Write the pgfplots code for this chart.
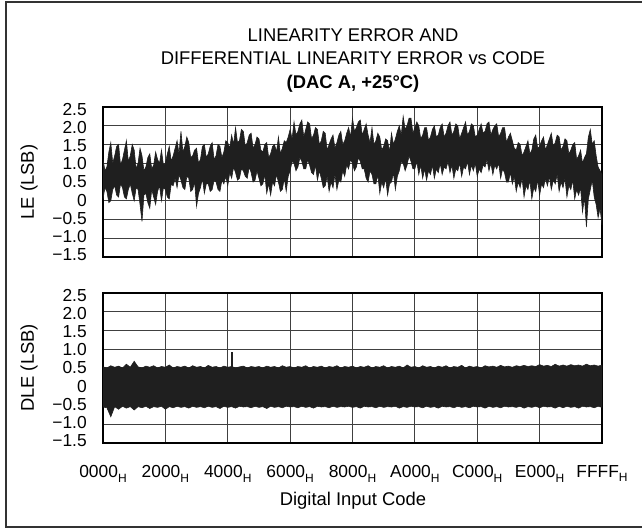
\documentclass[border=0pt]{standalone}
\usepackage{fontspec}
\setmainfont{Liberation Sans}
\usepackage{pgfplots}
\pgfplotsset{compat=1.18}
\usepackage{pgfplotstable}

\newcommand{\hx}[1]{#1\raisebox{-2.4pt}{\fontsize{6}{6}\selectfont H}}

% LE band as one closed outline, a point every 256 codes:
% upper edge from 0000H to FFFFH (257 rows), then lower edge back to 0000H (257 rows)
\pgfplotstableread[row sep=\\]{
y\\
1.10\\ 0.80\\ 0.90\\ 1.30\\ 1.55\\ 1.00\\ 1.20\\ 1.45\\ 1.50\\ 0.95\\
1.10\\ 1.35\\ 1.60\\ 1.05\\ 1.20\\ 1.50\\ 1.35\\ 0.85\\ 1.00\\ 1.40\\
1.20\\ 0.80\\ 0.90\\ 1.15\\ 1.25\\ 0.85\\ 0.95\\ 1.30\\ 1.10\\ 1.00\\
1.35\\ 0.95\\ 1.00\\ 1.25\\ 1.45\\ 1.05\\ 1.20\\ 1.40\\ 1.60\\ 1.25\\
1.85\\ 1.30\\ 1.45\\ 1.70\\ 1.55\\ 1.15\\ 1.20\\ 1.35\\ 1.40\\ 1.00\\
1.10\\ 1.45\\ 1.50\\ 1.15\\ 1.25\\ 1.45\\ 1.55\\ 1.10\\ 1.20\\ 1.50\\
1.45\\ 1.15\\ 1.30\\ 1.60\\ 1.55\\ 1.40\\ 1.75\\ 1.50\\ 1.95\\ 1.55\\
1.60\\ 1.90\\ 1.85\\ 1.45\\ 1.55\\ 1.75\\ 1.80\\ 1.40\\ 1.50\\ 1.70\\
1.65\\ 1.35\\ 1.30\\ 1.50\\ 1.55\\ 1.15\\ 1.25\\ 1.45\\ 1.50\\ 1.30\\
1.70\\ 1.25\\ 1.40\\ 1.60\\ 1.55\\ 1.70\\ 1.90\\ 1.65\\ 2.10\\ 1.75\\
1.85\\ 2.05\\ 2.15\\ 1.70\\ 1.90\\ 2.10\\ 2.05\\ 1.65\\ 1.75\\ 1.95\\
1.90\\ 1.50\\ 1.60\\ 1.85\\ 1.80\\ 1.35\\ 1.50\\ 1.65\\ 1.75\\ 1.40\\
1.55\\ 1.75\\ 1.85\\ 1.50\\ 1.60\\ 1.80\\ 1.95\\ 1.70\\ 2.20\\ 1.85\\
1.95\\ 2.10\\ 2.15\\ 1.75\\ 1.90\\ 2.05\\ 1.75\\ 1.55\\ 1.95\\ 1.50\\
1.60\\ 1.80\\ 1.70\\ 1.35\\ 1.45\\ 1.65\\ 1.60\\ 1.30\\ 1.80\\ 1.50\\
1.65\\ 1.85\\ 2.00\\ 1.75\\ 2.25\\ 1.90\\ 2.00\\ 2.20\\ 2.20\\ 1.80\\
1.95\\ 2.10\\ 2.00\\ 1.65\\ 1.75\\ 1.95\\ 1.95\\ 1.60\\ 1.70\\ 1.90\\
2.00\\ 1.70\\ 1.75\\ 1.95\\ 2.05\\ 1.70\\ 1.80\\ 2.00\\ 2.10\\ 1.75\\
1.85\\ 2.05\\ 2.00\\ 1.65\\ 1.80\\ 1.95\\ 2.10\\ 1.75\\ 1.85\\ 2.05\\
2.00\\ 1.70\\ 1.75\\ 1.90\\ 2.05\\ 1.80\\ 1.85\\ 2.05\\ 2.10\\ 1.75\\
1.90\\ 2.00\\ 2.05\\ 1.70\\ 1.80\\ 1.95\\ 1.95\\ 1.55\\ 1.70\\ 1.80\\
1.60\\ 1.40\\ 1.35\\ 1.55\\ 1.50\\ 1.20\\ 1.30\\ 1.45\\ 1.60\\ 1.25\\
1.35\\ 1.65\\ 1.75\\ 1.40\\ 1.45\\ 1.60\\ 1.70\\ 1.35\\ 1.50\\ 1.65\\
1.80\\ 1.45\\ 1.55\\ 1.75\\ 1.70\\ 1.35\\ 1.45\\ 1.65\\ 1.60\\ 1.25\\
1.35\\ 1.50\\ 1.55\\ 1.10\\ 1.20\\ 1.35\\ 1.00\\ 1.15\\ 1.25\\ 1.70\\
1.90\\ 1.50\\ 1.60\\ 1.20\\ 0.90\\ 0.80\\ 0.70\\
-0.65\\ -0.20\\ -0.45\\ -0.10\\ 0.10\\ 0.55\\ 0.30\\ 0.05\\ -0.70\\ 0.10\\
-0.30\\ 0.35\\ 0.15\\ 0.30\\ 0.05\\ 0.55\\ 0.30\\ 0.40\\ 0.10\\ 0.60\\
0.35\\ 0.50\\ 0.25\\ 0.70\\ 0.45\\ 0.55\\ 0.30\\ 0.65\\ 0.40\\ 0.60\\
0.35\\ 0.45\\ 0.15\\ 0.55\\ 0.25\\ 0.35\\ 0.05\\ 0.55\\ 0.30\\ 0.40\\
0.10\\ 0.60\\ 0.35\\ 0.50\\ 0.25\\ 0.65\\ 0.45\\ 0.75\\ 0.50\\ 0.50\\
0.75\\ 0.85\\ 0.60\\ 1.00\\ 0.85\\ 0.95\\ 0.70\\ 1.00\\ 0.80\\ 1.10\\
0.90\\ 0.95\\ 0.75\\ 0.85\\ 0.65\\ 1.00\\ 0.80\\ 0.95\\ 0.70\\ 1.05\\
0.85\\ 0.90\\ 0.65\\ 1.00\\ 0.80\\ 0.85\\ 0.60\\ 0.95\\ 0.75\\ 1.05\\
0.85\\ 0.90\\ 0.70\\ 1.00\\ 0.75\\ 0.85\\ 0.60\\ 0.95\\ 0.70\\ 0.80\\
0.55\\ 0.85\\ 0.60\\ 0.95\\ 0.70\\ 1.05\\ 0.85\\ 0.85\\ 1.05\\ 1.20\\
0.95\\ 0.80\\ 1.00\\ 1.05\\ 0.80\\ 0.65\\ 0.30\\ 0.75\\ 0.50\\ 0.45\\
0.15\\ 0.60\\ 0.35\\ 0.50\\ 0.20\\ 0.70\\ 0.45\\ 0.45\\ 0.70\\ 0.80\\
0.50\\ 0.60\\ 0.85\\ 0.85\\ 1.05\\ 1.15\\ 0.90\\ 0.80\\ 1.00\\ 1.10\\
0.85\\ 0.95\\ 0.65\\ 0.80\\ 0.50\\ 0.55\\ 0.30\\ 0.70\\ 0.35\\ 0.50\\
0.25\\ 0.65\\ 0.40\\ 0.35\\ 0.60\\ 0.80\\ 0.55\\ 0.95\\ 0.70\\ 0.75\\
0.95\\ 1.10\\ 0.85\\ 0.85\\ 1.05\\ 1.15\\ 0.90\\ 0.80\\ 1.00\\ 1.05\\
0.80\\ 0.65\\ 0.25\\ 0.60\\ 0.30\\ 0.25\\ 0.50\\ 0.70\\ 0.40\\ 0.50\\
0.15\\ 0.45\\ 0.20\\ 0.70\\ 0.45\\ 0.40\\ 0.60\\ 0.80\\ 0.55\\ 0.50\\
0.75\\ 0.90\\ 0.60\\ 0.65\\ 0.80\\ 0.85\\ 0.60\\ 0.55\\ 0.75\\ 0.90\\
0.60\\ 0.75\\ 0.40\\ 0.65\\ 0.45\\ 0.55\\ 0.25\\ 0.30\\ 0.50\\ 0.55\\
0.30\\ 0.25\\ 0.45\\ 0.45\\ 0.20\\ 0.60\\ 0.35\\ 0.20\\ -0.15\\ 0.50\\
0.30\\ 0.25\\ 0.60\\ 0.65\\ 0.30\\ 0.35\\ 0.55\\ 0.70\\ 0.35\\ 0.60\\
0.40\\ 0.45\\ 0.05\\ 0.10\\ 0.30\\ 0.35\\ 0.00\\ 0.40\\ 0.25\\ -0.10\\
0.10\\ 0.30\\ -0.20\\ -0.05\\ 0.20\\ 0.15\\ -0.55\\ -0.10\\ 0.30\\ 0.35\\
0.00\\ 0.20\\ 0.45\\ 0.30\\ 0.05\\ 0.10\\ 0.35\\ 0.45\\ 0.10\\ 0.15\\
0.40\\ 0.30\\ 0.00\\ -0.05\\ 0.25\\ 0.35\\ 0.05\\
}\leband

% DLE band, a point every 512 codes: upper edge out, lower edge back
\pgfplotstableread[row sep=\\]{
y\\
0.53\\ 0.50\\ 0.56\\ 0.52\\ 0.55\\ 0.50\\ 0.60\\ 0.52\\ 0.68\\ 0.53\\
0.50\\ 0.55\\ 0.52\\ 0.56\\ 0.50\\ 0.54\\ 0.52\\ 0.58\\ 0.50\\ 0.54\\
0.52\\ 0.55\\ 0.50\\ 0.56\\ 0.52\\ 0.54\\ 0.50\\ 0.57\\ 0.52\\ 0.54\\
0.50\\ 0.55\\ 0.52\\ 0.54\\ 0.50\\ 0.53\\ 0.55\\ 0.50\\ 0.54\\ 0.52\\
0.54\\ 0.50\\ 0.55\\ 0.52\\ 0.54\\ 0.50\\ 0.56\\ 0.52\\ 0.54\\ 0.50\\
0.54\\ 0.52\\ 0.56\\ 0.50\\ 0.54\\ 0.52\\ 0.55\\ 0.50\\ 0.54\\ 0.52\\
0.56\\ 0.50\\ 0.54\\ 0.52\\ 0.55\\ 0.50\\ 0.54\\ 0.52\\ 0.56\\ 0.50\\
0.54\\ 0.52\\ 0.56\\ 0.50\\ 0.54\\ 0.52\\ 0.55\\ 0.50\\ 0.58\\ 0.52\\
0.54\\ 0.50\\ 0.56\\ 0.52\\ 0.54\\ 0.50\\ 0.55\\ 0.52\\ 0.56\\ 0.50\\
0.54\\ 0.52\\ 0.57\\ 0.50\\ 0.55\\ 0.52\\ 0.54\\ 0.50\\ 0.56\\ 0.53\\
0.55\\ 0.52\\ 0.57\\ 0.53\\ 0.55\\ 0.52\\ 0.56\\ 0.54\\ 0.57\\ 0.54\\
0.56\\ 0.54\\ 0.59\\ 0.55\\ 0.57\\ 0.54\\ 0.60\\ 0.55\\ 0.58\\ 0.55\\
0.59\\ 0.56\\ 0.58\\ 0.55\\ 0.60\\ 0.56\\ 0.58\\ 0.55\\ 0.58\\
-0.55\\ -0.52\\ -0.56\\ -0.53\\ -0.54\\ -0.52\\ -0.57\\ -0.53\\ -0.55\\ -0.52\\
-0.56\\ -0.52\\ -0.57\\ -0.53\\ -0.54\\ -0.52\\ -0.56\\ -0.52\\ -0.55\\ -0.53\\
-0.57\\ -0.52\\ -0.55\\ -0.53\\ -0.54\\ -0.52\\ -0.56\\ -0.53\\ -0.55\\ -0.52\\
-0.57\\ -0.53\\ -0.54\\ -0.52\\ -0.56\\ -0.53\\ -0.55\\ -0.52\\ -0.56\\ -0.53\\
-0.54\\ -0.52\\ -0.57\\ -0.53\\ -0.55\\ -0.52\\ -0.56\\ -0.53\\ -0.54\\ -0.52\\
-0.55\\ -0.53\\ -0.57\\ -0.52\\ -0.54\\ -0.53\\ -0.55\\ -0.52\\ -0.56\\ -0.53\\
-0.54\\ -0.52\\ -0.57\\ -0.53\\ -0.55\\ -0.52\\ -0.54\\ -0.53\\ -0.55\\ -0.52\\
-0.56\\ -0.53\\ -0.54\\ -0.52\\ -0.57\\ -0.53\\ -0.55\\ -0.52\\ -0.56\\ -0.53\\
-0.54\\ -0.52\\ -0.56\\ -0.53\\ -0.55\\ -0.52\\ -0.58\\ -0.53\\ -0.55\\ -0.52\\
-0.56\\ -0.53\\ -0.54\\ -0.52\\ -0.57\\ -0.53\\ -0.55\\ -0.52\\ -0.58\\ -0.53\\
-0.55\\ -0.52\\ -0.56\\ -0.53\\ -0.55\\ -0.52\\ -0.57\\ -0.53\\ -0.55\\ -0.52\\
-0.56\\ -0.53\\ -0.60\\ -0.52\\ -0.55\\ -0.53\\ -0.58\\ -0.52\\ -0.56\\ -0.53\\
-0.62\\ -0.53\\ -0.57\\ -0.52\\ -0.60\\ -0.53\\ -0.80\\ -0.56\\ -0.54\\
}\dleband

\pgfplotsset{
  errplot/.style={
    scale only axis, width=249.5pt, height=75pt,
    anchor=south west,
    xmin=0, xmax=65535, ymin=-1.5, ymax=2.5,
    scaled x ticks=false,
    xtick={0,8192,16384,24576,32768,40960,49152,57344,65535},
    ytick={-1.5,-1,-0.5,0,0.5,1,1.5,2,2.5},
    yticklabels={−1.5,−1.0,−0.5,0,0.5,1.0,1.5,2.0,2.5},
    grid=major, major grid style={black!75, line width=0.5pt},
    major tick length=0pt,
    axis line style={line width=1.4pt},
    tick label style={font=\fontsize{8.7}{10}\selectfont},
    yticklabel style={xshift=-4.6pt, yshift={1.25pt-0.3pt*\ticknum}},
    xticklabel style={yshift=-7.5pt},
  },
  band/.style={fill=black!88, draw=black!88, line width=0.3pt},
}

\begin{document}
\begin{tikzpicture}[font=\fontsize{9.2}{11}\selectfont]
\useasboundingbox (0,0) rectangle (321pt,264.5pt);
\draw[black!80, line width=1pt] (325pt,263.5pt) -- (3pt,263.5pt) -- (3pt,0.8pt) -- (325pt,0.8pt);

\node[anchor=base] at (176.5pt,243.5pt) {LINEARITY ERROR AND};
\node[anchor=base] at (176.5pt,232pt) {DIFFERENTIAL LINEARITY ERROR vs CODE};
\node[anchor=base, font=\fontsize{9.2}{11}\selectfont\bfseries] at (176.5pt,220pt) {(DAC A, +25°C)};

\begin{axis}[errplot, at={(51.5pt,136pt)}, xticklabels={}]
  \addplot[band] table[x expr={\coordindex<257 ? \coordindex*256 : (513-\coordindex)*256}, y=y] {\leband};
\end{axis}

\begin{axis}[errplot, at={(51.5pt,43pt)},
  xticklabels={\hx{0000},\hx{2000},\hx{4000},\hx{6000},\hx{8000},\hx{A000},\hx{C000},\hx{E000},\hx{FFFF}}]
  \addplot[band] table[x expr={\coordindex<129 ? \coordindex*512 : (257-\coordindex)*512}, y=y] {\dleband};
  \addplot[black!88, line width=0.6pt] coordinates {(16940,0.40) (16940,0.92)};
\end{axis}

\node[rotate=90] at (14.5pt,173.5pt) {LE (LSB)};
\node[rotate=90] at (14.5pt,80.5pt) {DLE (LSB)};
\node[anchor=base] at (176.5pt,11.5pt) {Digital Input Code};
\end{tikzpicture}
\end{document}
